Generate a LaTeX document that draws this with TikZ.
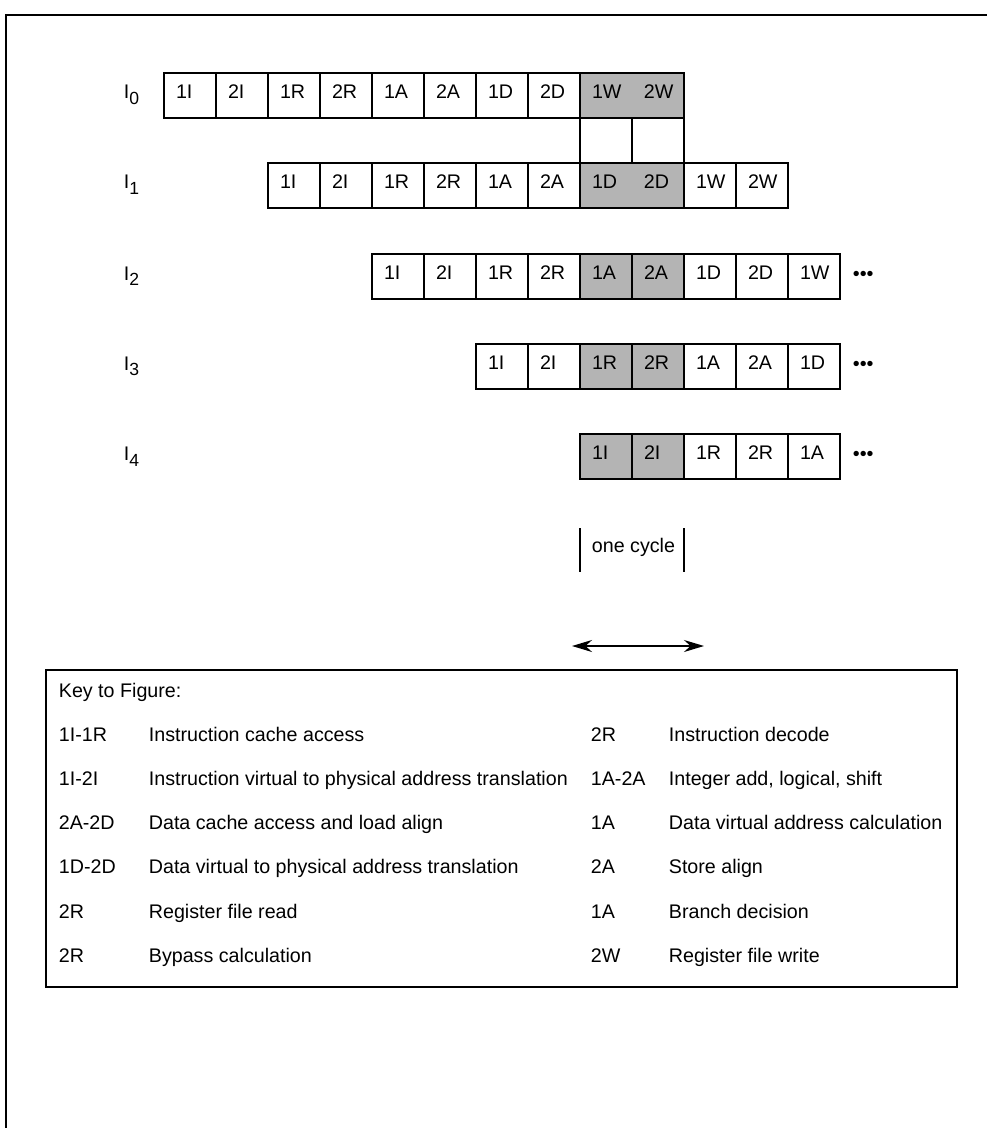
\documentclass[tikz,border=0pt]{standalone}
\usepackage{fontspec}
\setmainfont{Liberation Sans}
\usetikzlibrary{positioning, arrows.meta}
\definecolor{stagegray}{RGB}{180,180,180}
\newcommand{\instr}[1]{I\raisebox{-0.12cm}{\fontsize{10}{10}\selectfont #1}}

\begin{document}
\begin{tikzpicture}[x=0.02cm, y=-0.02cm, line width=1pt,
every node/.style={font=\fontsize{11.2}{13}\selectfont},
stage/.style={rectangle, draw, anchor=north west, outer sep=0pt, minimum width=1.04cm, minimum height=0.9cm, inner xsep=0.24cm, inner ysep=0pt, text width=0.56cm, align=left, text height=0.3cm, text depth=0.16cm},
busy/.style={stage, fill=stagegray},
pair/.style={busy, minimum width=2.08cm, text width=1.6cm},
tag/.style={anchor=base west, inner sep=0pt},
span/.style={{Stealth[length=0.4cm, width=0.24cm]}-{Stealth[length=0.4cm, width=0.24cm]}}
]
\useasboundingbox (0,0) rectangle (987,1128);
\draw (6,1128) -- (6,15) -- (987,15);

% I0
\node[tag] (L0) at (123,99) {\instr{0}};
\foreach \s [count=\k from 0] in {1I,2I,1R,2R,1A,2A,1D,2D}
  \node[stage] (a\k) at (164+52*\k,73) {\s};
\node[pair] (a8) at (580,73) {\makebox[1.04cm][l]{1W}2W};
\node[stage] (gap1) at (580,118) {};
\node[stage] (gap2) at (632,118) {};

% I1
\node[tag] (L1) at (123,189) {\instr{1}};
\foreach \s [count=\k from 0] in {1I,2I,1R,2R,1A,2A}
  \node[stage] (b\k) at (268+52*\k,163) {\s};
\node[pair] (b6) at (580,163) {\makebox[1.04cm][l]{1D}2D};
\node[stage] (b8) at (684,163) {1W};
\node[stage] (b9) at (736,163) {2W};

% I2
\node[tag] (L2) at (123,280) {\instr{2}};
\foreach \st/\s [count=\k from 0] in {stage/1I,stage/2I,stage/1R,stage/2R,busy/1A,busy/2A,stage/1D,stage/2D,stage/1W}
  \node[\st] (c\k) at (372+52*\k,254) {\s};
\node[tag] (more2) at (852,280) {•••};

% I3
\node[tag] (L3) at (123,370) {\instr{3}};
\foreach \st/\s [count=\k from 0] in {stage/1I,stage/2I,busy/1R,busy/2R,stage/1A,stage/2A,stage/1D}
  \node[\st] (d\k) at (476+52*\k,344) {\s};
\node[tag] (more3) at (852,370) {•••};

% I4
\node[tag] (L4) at (123,460) {\instr{4}};
\foreach \st/\s [count=\k from 0] in {busy/1I,busy/2I,stage/1R,stage/2R,stage/1A}
  \node[\st] (e\k) at (580+52*\k,434) {\s};
\node[tag] (more4) at (852,460) {•••};

% one cycle
\node[tag] (cycle) at (591,552) {one cycle};
\coordinate (barLt) at (580,528);
\coordinate (barLb) at (580,572);
\coordinate (barRt) at (684,528);
\coordinate (barRb) at (684,572);
\draw (barLt) -- (barLb);
\draw (barRt) -- (barRb);
\coordinate (spanL) at (572,646);
\coordinate (spanR) at (704,646);
\draw[span] (spanL) -- (spanR);

% key
\draw (46,670) rectangle (957,987);
\node[tag] (keyhead) at (58,697) {Key to Figure:};
\foreach \a/\b/\c/\d [count=\i] in {
  1I-1R/Instruction cache access/2R/Instruction decode,
  1I-2I/Instruction virtual to physical address translation/1A-2A/{Integer add, logical, shift},
  2A-2D/Data cache access and load align/1A/Data virtual address calculation,
  1D-2D/Data virtual to physical address translation/2A/Store align,
  2R/Register file read/1A/Branch decision,
  2R/Bypass calculation/2W/Register file write}
{
  \node[tag] (ka\i) at (58,697+44.2*\i) {\a};
  \node[tag] (kb\i) at (148,697+44.2*\i) {\b};
  \node[tag] (kc\i) at (590,697+44.2*\i) {\c};
  \node[tag] (kd\i) at (668,697+44.2*\i) {\d};
}
\end{tikzpicture}
\end{document}
